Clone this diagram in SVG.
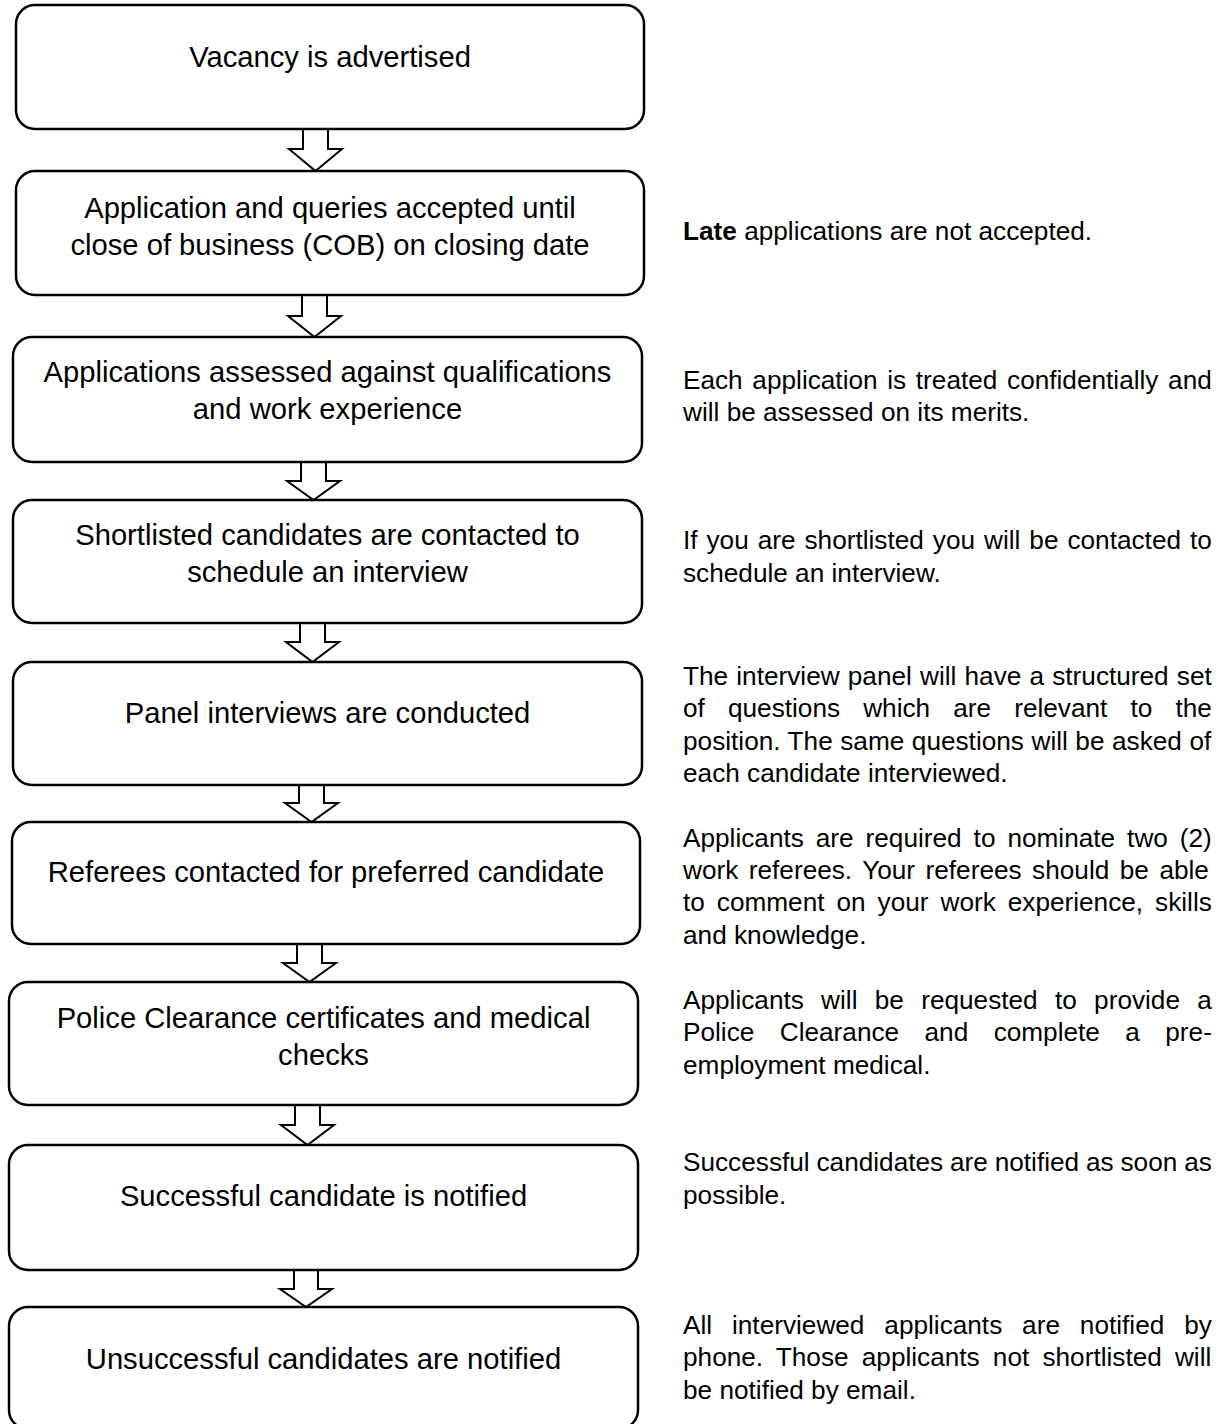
<svg xmlns="http://www.w3.org/2000/svg" width="1223" height="1424" viewBox="0 0 1223 1424">
<style>
.box{fill:#fff;stroke:#000;stroke-width:2.5}
.arr{fill:#fff;stroke:#000;stroke-width:2;stroke-linejoin:miter}
.t{font-family:"Liberation Sans",Arial,sans-serif;font-size:29.2px;fill:#000;text-anchor:middle}
.n{font-family:"Liberation Sans",Arial,sans-serif;font-size:26.2px;fill:#000}
</style>
<rect width="1223" height="1424" fill="#fff"/>
<g id="connectors">
<polygon class="arr" points="303,129 328,129 328,149 342,149 315.5,171 289,149 303,149"/>
<polygon class="arr" points="302,295 327,295 327,316 341,316 314.5,337 288,316 302,316"/>
<polygon class="arr" points="301,462 326,462 326,481 340,481 313.5,500 287,481 301,481"/>
<polygon class="arr" points="300,623 325,623 325,642 339,642 312.5,662 286,642 300,642"/>
<polygon class="arr" points="299,785 324,785 324,803 338,803 311.5,822 285,803 299,803"/>
<polygon class="arr" points="297,944 322,944 322,963 336,963 309.5,982 283,963 297,963"/>
<polygon class="arr" points="295,1105 320,1105 320,1125 334,1125 307.5,1145 281,1125 295,1125"/>
<polygon class="arr" points="294,1270 318,1270 318,1289 332,1289 306,1307 280,1289 294,1289"/>
</g>
<g id="n1"><rect class="box" x="16" y="5" width="628" height="124" rx="19"/><text class="t" x="330" y="67">Vacancy is advertised</text></g>
<g id="n2"><rect class="box" x="16" y="171" width="628" height="124" rx="19"/><text class="t" x="330" y="218">Application and queries accepted until</text><text class="t" x="330" y="255">close of business (COB) on closing date</text></g>
<g id="n3"><rect class="box" x="13" y="337" width="629" height="125" rx="19"/><text class="t" x="327.5" y="382">Applications assessed against qualifications</text><text class="t" x="327.5" y="419">and work experience</text></g>
<g id="n4"><rect class="box" x="13" y="500" width="629" height="123" rx="19"/><text class="t" x="327.5" y="545">Shortlisted candidates are contacted to</text><text class="t" x="327.5" y="582">schedule an interview</text></g>
<g id="n5"><rect class="box" x="13" y="662" width="629" height="123" rx="19"/><text class="t" x="327.5" y="723">Panel interviews are conducted</text></g>
<g id="n6"><rect class="box" x="12" y="822" width="628" height="122" rx="19"/><text class="t" x="326" y="882">Referees contacted for preferred candidate</text></g>
<g id="n7"><rect class="box" x="9" y="982" width="629" height="123" rx="19"/><text class="t" x="323.5" y="1028">Police Clearance certificates and medical</text><text class="t" x="323.5" y="1065">checks</text></g>
<g id="n8"><rect class="box" x="9" y="1145" width="629" height="125" rx="19"/><text class="t" x="323.5" y="1206">Successful candidate is notified</text></g>
<g id="n9"><rect class="box" x="9" y="1307" width="629" height="122" rx="19"/><text class="t" x="323.5" y="1369">Unsuccessful candidates are notified</text></g>
<g id="notes">
<text class="n" x="683" y="240"><tspan font-weight="bold">Late</tspan> applications are not accepted.</text>
<text class="n" x="683" y="389" word-spacing="2.4">Each application is treated confidentially and</text>
<text class="n" x="683" y="421">will be assessed on its merits.</text>
<text class="n" x="683" y="549" word-spacing="1.69">If you are shortlisted you will be contacted to</text>
<text class="n" x="683" y="582">schedule an interview.</text>
<text class="n" x="683" y="685" word-spacing="0.89">The interview panel will have a structured set</text>
<text class="n" x="683" y="717" word-spacing="15.84">of questions which are relevant to the</text>
<text class="n" x="683" y="750" word-spacing="0.26">position. The same questions will be asked of</text>
<text class="n" x="683" y="782">each candidate interviewed.</text>
<text class="n" x="683" y="847" word-spacing="4.68">Applicants are required to nominate two (2)</text>
<text class="n" x="683" y="879" word-spacing="3.22">work referees. Your referees should be able</text>
<text class="n" x="683" y="911" word-spacing="4.69">to comment on your work experience, skills</text>
<text class="n" x="683" y="944">and knowledge.</text>
<text class="n" x="683" y="1009" word-spacing="10.02">Applicants will be requested to provide a</text>
<text class="n" x="683" y="1041" word-spacing="18.14">Police Clearance and complete a pre-</text>
<text class="n" x="683" y="1074">employment medical.</text>
<text class="n" x="683" y="1171" word-spacing="-0.42">Successful candidates are notified as soon as</text>
<text class="n" x="683" y="1204">possible.</text>
<text class="n" x="683" y="1334" word-spacing="12.6">All interviewed applicants are notified by</text>
<text class="n" x="683" y="1366" word-spacing="5.9">phone. Those applicants not shortlisted will</text>
<text class="n" x="683" y="1399">be notified by email.</text>
</g>
</svg>
